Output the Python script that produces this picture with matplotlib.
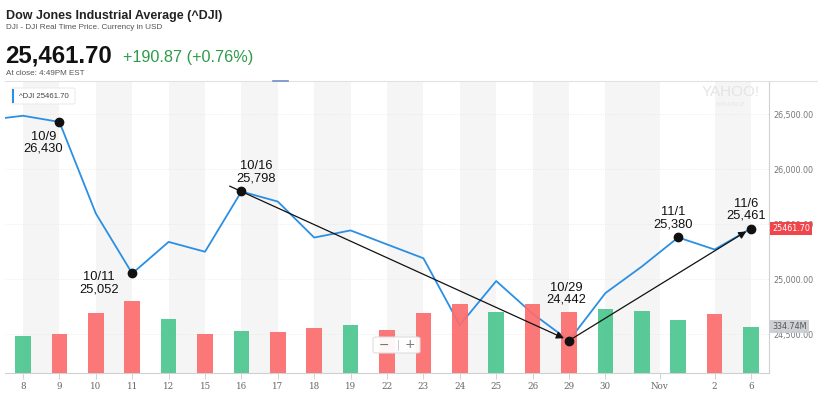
import numpy as np
import matplotlib.pyplot as plt
from matplotlib.patches import FancyBboxPatch
from matplotlib.lines import Line2D

# daily closes, Oct 8 - Nov 6 (prev_close = the session before, partly visible at the left edge)
prev_close = 26447.05
closes = [26486.78, 26430.57, 25598.74, 25052.83, 25339.99, 25250.55, 25798.42, 25706.68,
          25379.45, 25444.34, 25317.41, 25191.43, 24583.42, 24984.55, 24688.31, 24442.92,
          24874.64, 25115.76, 25380.74, 25270.83, 25461.70]
# volume in millions
volumes = [268, 280, 435, 519, 390, 284, 304, 294, 323, 349, 309, 431, 495, 438, 500,
           440, 464, 445, 383, 426, 334.74]
tick_pos = list(range(17)) + [17.5, 19, 20]
tick_labels = ['8', '9', '10', '11', '12', '15', '16', '17', '18', '19', '22', '23', '24',
               '25', '26', '29', '30', 'Nov', '2', '6']
# marked points: index, date label, value label, text offset (pixels)
mark_idx = [1, 3, 6, 15, 18, 20]
mark_dates = ['10/9', '10/11', '10/16', '10/29', '11/1', '11/6']
mark_vals = ['26,430', '25,052', '25,798', '24,442', '25,380', '25,461']
mark_offsets = [(-16, -21), (-33, -10), (15, 19), (-3, 47), (-5, 19), (-5, 19)]

W, H = 818, 398
GREEN = '#4cc68f'
RED = '#fc6d6d'
BLUE = '#2b8fe3'


def fx(x):
    return x / W


def fy(y):
    return 1 - y / H


fig = plt.figure(figsize=(W / 100, H / 100), dpi=100)

left, right, top, bottom = 5, 769, 81, 373.3
rect = [fx(left), fy(bottom), (right - left) / W, (bottom - top) / H]

ax = fig.add_axes(rect)
axv = fig.add_axes(rect, sharex=ax)
axa = fig.add_axes(rect, sharex=ax)
for a in (axv, axa):
    a.patch.set_visible(False)
    a.axis('off')

x_all = np.arange(-1, len(closes))
ax.set_xlim(-0.495, 20.495)
ax.set_ylim(24145.5, 26802.7)
axa.set_ylim(ax.get_ylim())
axv.set_ylim(0, 2100)

# alternating bands between ticks
for i in range(0, len(tick_pos) - 1, 2):
    ax.axvspan(tick_pos[i], tick_pos[i + 1], color='#f5f5f5', lw=0, zorder=0)

ax.plot(x_all, [prev_close] + closes, color=BLUE, lw=1.3, zorder=3)

# volume bars
prev = [prev_close] + closes[:-1]
bar_colors = [GREEN if c >= p else RED for c, p in zip(closes, prev)]
axv.bar(np.arange(len(closes)), volumes, width=0.43, color=bar_colors, alpha=0.92, lw=0)

# axes styling
ax.yaxis.tick_right()
yt = [24500, 25000, 25500, 26000, 26500]
ax.set_yticks(yt)
ax.set_yticklabels([f'{v:,.2f}' for v in yt])
ax.tick_params(axis='y', length=0, pad=3, labelsize=5.8, labelcolor='#777')
for v in yt:
    ax.axhline(v, color='#e4e4e4', lw=0.6, ls=(0, (1, 2)), zorder=1)
ax.set_xticks(tick_pos)
ax.set_xticklabels(tick_labels, family='DejaVu Serif', fontsize=6.3, color='#666')
ax.tick_params(axis='x', length=4, width=0.6, color='#cccccc', pad=2)
for s in ('left', 'top'):
    ax.spines[s].set_visible(False)
ax.spines['bottom'].set_color('#d0d0d0')
ax.spines['right'].set_color('#d0d0d0')
ax.spines['bottom'].set_linewidth(0.8)
ax.spines['right'].set_linewidth(0.8)

# marked points and labels
for i, d, v, off in zip(mark_idx, mark_dates, mark_vals, mark_offsets):
    axa.plot(i, closes[i], 'o', color='#111111', ms=6, zorder=6)
    axa.annotate(f'{d}\n{v}', (i, closes[i]), xytext=off, textcoords='offset pixels',
                 ha='center', va='center', fontsize=9.3, family='Liberation Sans',
                 color='#111111', linespacing=1.0, zorder=6)

# trend arrows
a16, a29, a6 = 6, 15, 20
ext = 0.036
start = (a16 - (a29 - a16) * ext, closes[a16] + (closes[a16] - closes[a29]) * ext)
axa.annotate('', xy=(a29, closes[a29]), xytext=start,
             arrowprops=dict(arrowstyle='-|>', color='#111111', lw=0.9,
                             mutation_scale=11, shrinkA=0, shrinkB=4))
axa.annotate('', xy=(a6, closes[a6]), xytext=(a29, closes[a29]),
             arrowprops=dict(arrowstyle='-|>', color='#111111', lw=0.9,
                             mutation_scale=11, shrinkA=0, shrinkB=4))

# last value flags on the right axis
ax.annotate(f'{closes[-1]:.2f}', (1.0, closes[-1]), xycoords=('axes fraction', 'data'),
            xytext=(3, 0), textcoords='offset pixels', ha='left', va='center',
            fontsize=5.8, color='white',
            bbox=dict(boxstyle='square,pad=0.25', fc='#f0454a', ec='none'))
axv.annotate(f'{volumes[-1]:.2f}M', (1.0, volumes[-1]), xycoords=('axes fraction', 'data'),
             xytext=(3, 0), textcoords='offset pixels', ha='left', va='center',
             fontsize=5.8, color='#555', annotation_clip=False,
             bbox=dict(boxstyle='square,pad=0.25', fc='#c9ccd0', ec='none', alpha=0.9))

# header
hdr = dict(family='Liberation Sans', va='baseline', ha='left')
fig.text(fx(6), fy(18.5), 'Dow Jones Industrial Average (^DJI)', fontsize=9,
         fontweight='bold', color='#222', **hdr)
fig.text(fx(6), fy(29), 'DJI - DJI Real Time Price. Currency in USD', fontsize=5.9,
         color='#555', **hdr)
fig.text(fx(5), fy(63), '25,461.70', fontsize=17.3, fontweight='bold', color='#111', **hdr)
fig.text(fx(123), fy(62), '+190.87 (+0.76%)', fontsize=11.7, color='#2e9b48', **hdr)
fig.text(fx(6), fy(75), 'At close: 4:49PM EST', fontsize=5.8, color='#555', **hdr)
fig.add_artist(Line2D([fx(5), 1], [fy(81), fy(81)], color='#e2e2e2', lw=0.8))
fig.add_artist(Line2D([fx(273), fx(288)], [fy(81), fy(81)], color='#6f8fc8', lw=1.2))

# legend chip
fig.add_artist(FancyBboxPatch((fx(12), fy(104)), 63 / W, 16 / H,
                              boxstyle='round,pad=0,rounding_size=0.003',
                              fc='white', ec='#ececec', lw=0.8))
fig.add_artist(FancyBboxPatch((fx(12), fy(103)), 2.5 / W, 14 / H,
                              boxstyle='square,pad=0', fc='#2b8fe3', ec='none'))
fig.text(fx(19), fy(96), '^DJI 25461.70', fontsize=5.6, color='#444', va='center',
         family='Liberation Sans')

# zoom buttons
fig.add_artist(FancyBboxPatch((fx(373), fy(353)), 47 / W, 16 / H,
                              boxstyle='round,pad=0,rounding_size=0.004',
                              fc='white', ec='#dddddd', lw=0.8, alpha=0.95))
fig.text(fx(384), fy(345), '\u2212', fontsize=9, color='#777', ha='center', va='center')
fig.text(fx(410), fy(345), '+', fontsize=9, color='#777', ha='center', va='center')
fig.add_artist(Line2D([fx(397.5), fx(397.5)], [fy(340), fy(350)], color='#cccccc', lw=0.7))

# watermark
fig.text(fx(731), fy(92), 'YAHOO!', fontsize=11, color='#e4e4e4', ha='center',
         va='center', family='Liberation Sans')
fig.text(fx(731), fy(104), 'FINANCE', fontsize=5, color='#e4e4e4', ha='center',
         va='center', family='Liberation Serif')

fig.savefig('out.png', dpi=100)
